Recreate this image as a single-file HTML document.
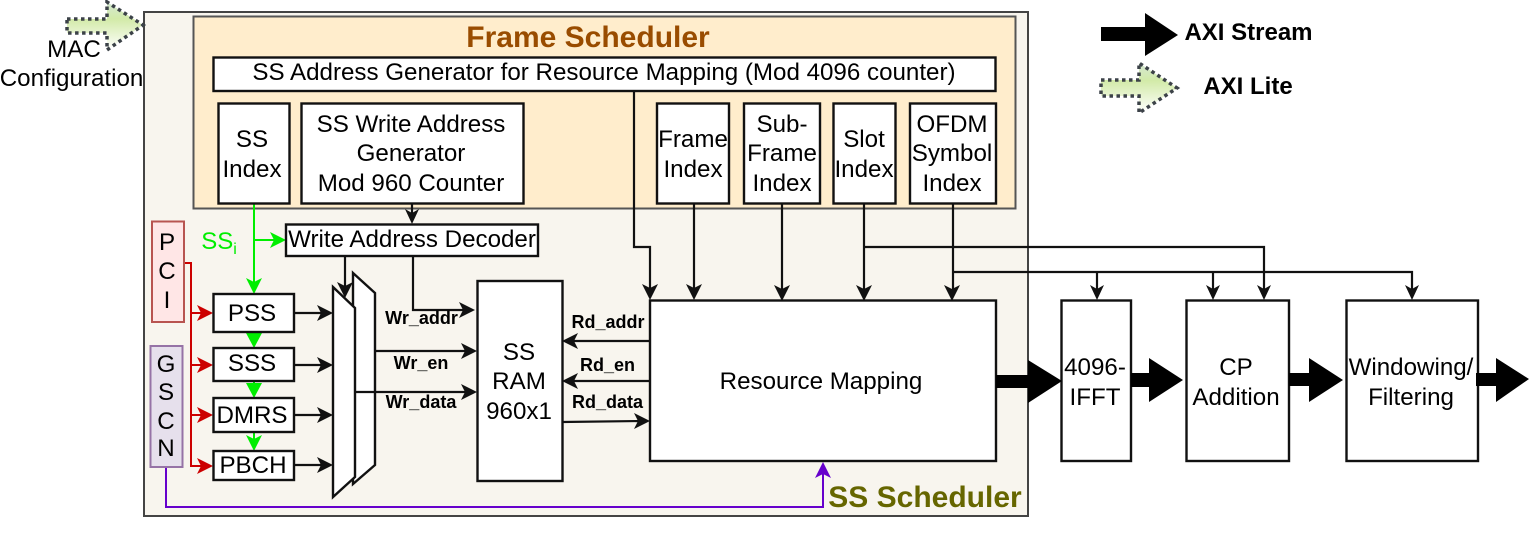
<!DOCTYPE html>
<html><head><meta charset="utf-8"><style>
html,body{margin:0;padding:0;background:#fff;width:1536px;height:536px;overflow:hidden}
svg{display:block}
text{font-family:"Liberation Sans",sans-serif;fill:#000;text-anchor:middle}
.t{font-size:24.15px}
.b{font-size:18px;font-weight:bold}
.box{fill:#fff;stroke:#111;stroke-width:2.4}
.w{fill:none;stroke:#111;stroke-width:2.2}
.g{fill:none;stroke:#00ee00;stroke-width:2}
.r{fill:none;stroke:#cc0000;stroke-width:2}
</style></head><body>
<svg width="1536" height="536" viewBox="0 0 1536 536" xmlns="http://www.w3.org/2000/svg">
<defs>
<linearGradient id="gr" x1="0" y1="0" x2="0" y2="1"><stop offset="0" stop-color="#d5e8d4"/><stop offset="0.35" stop-color="#d2eaa8"/><stop offset="1" stop-color="#ffffff"/></linearGradient>
</defs>

<!-- outer -->
<rect x="144" y="12" width="884" height="504" fill="#f8f5ee" stroke="#444" stroke-width="2"/>
<!-- frame scheduler -->
<rect x="193.500" y="16.500" width="822" height="192" fill="#ffedcc" stroke="#555" stroke-width="2"/>

<!-- AXI lite arrows -->
<polygon points="67,19 107,19 107,2 143,25 107,50 107,33 67,33" fill="url(#gr)" stroke="#3c4248" stroke-width="3.500" stroke-dasharray="3.500 3.500"/>
<polygon points="1101,80 1139,80 1139,63 1177,88 1139,113 1139,96 1101,96" fill="url(#gr)" stroke="#3c4248" stroke-width="3.500" stroke-dasharray="3.500 3.500"/>
<!-- AXI stream legend -->
<polygon points="1101,27 1145,27 1145,13 1178,35 1145,56 1145,41 1101,41" fill="#000"/>

<text class="t" x="74" y="57">MAC</text>
<text class="t" x="71.500" y="86">Configuration</text>
<text x="1248.500" y="40" style="font-size:24px;font-weight:bold">AXI Stream</text>
<text x="1248" y="94" style="font-size:24px;font-weight:bold">AXI Lite</text>

<text x="588" y="47" style="font-size:30px;font-weight:bold;fill:#994c00">Frame Scheduler</text>
<text x="925" y="507" style="font-size:30px;font-weight:bold;fill:#666600">SS Scheduler</text>

<!-- black connectors -->
<path class="w" d="M634 91V247H650V290"/>
<path class="w" d="M694 204V290"/>
<path class="w" d="M782 204V291"/>
<path class="w" d="M864 204V291"/>
<path class="w" d="M953 204V291"/>
<path class="w" d="M864 247H1264V291"/>
<path class="w" d="M953 272H1412V291"/>
<path class="w" d="M1097 272V291"/>
<path class="w" d="M1213 272V291"/>
<path class="w" d="M412 204V216"/>
<path class="w" d="M345 256V290"/>
<path class="w" d="M413 256V310H468"/>
<path class="w" d="M375 351H468"/>
<path class="w" d="M650 341H570"/>
<path class="w" d="M650 381H570"/>
<path class="w" d="M562 422L642 421"/>
<path class="w" d="M294 313H325"/>
<path class="w" d="M294 365H325"/>
<path class="w" d="M294 415H325"/>
<path class="w" d="M294 465H325"/>

<!-- black arrowheads -->
<g fill="#111">
<polygon points="650,300 642,284 650,288 658,284"/>
<polygon points="694,300 686,284 694,288 702,284"/>
<polygon points="782,301 774,285 782,289 790,285"/>
<polygon points="864,301 856,285 864,289 872,285"/>
<polygon points="952,301 944,285 952,289 960,285"/>
<polygon points="1097,300 1090,285 1097,289 1104,285"/>
<polygon points="1213,300 1206,285 1213,289 1220,285"/>
<polygon points="1264,300 1257,285 1264,289 1271,285"/>
<polygon points="1412,300 1405,285 1412,289 1419,285"/>
<polygon points="412,224 405,209 412,213 419,209"/>
<polygon points="345,298 337,282 345,286 353,282"/>
<polygon points="475,310 459,302 463,310 459,318"/>
<polygon points="477,351 461,343 465,351 461,359"/>
<polygon points="562,341 578,333 574,341 578,349"/>
<polygon points="562,381 578,373 574,381 578,389"/>
<polygon points="650,421 634,413 638,421 634,429"/>
<polygon points="333,313 317,305 321,313 317,321"/>
<polygon points="333,365 317,357 321,365 317,373"/>
<polygon points="333,415 317,407 321,415 317,423"/>
<polygon points="333,465 317,457 321,465 317,473"/>
</g>

<!-- green -->
<path class="g" d="M254 204V286"/>
<path class="g" d="M254 240H278"/>
<path class="g" d="M254 332V340"/>
<path class="g" d="M254 381V390"/>
<path class="g" d="M254 432V443"/>
<g fill="#00ee00">
<polygon points="286,240 270,232 274,240 270,248"/>
<polygon points="254,294 246,278 254,282 262,278"/>
<polygon points="254,348 246,333 262,333"/>
<polygon points="254,398 246,383 262,383"/>
<polygon points="254,451 246,435 254,439 262,435"/>
</g>
<text x="219" y="249" style="font-size:24px;fill:#00ee00">SS<tspan font-size="16" dy="5">i</tspan></text>

<!-- red -->
<path class="r" d="M184 263H191V466H205"/>
<path class="r" d="M191 313H205"/>
<path class="r" d="M191 365H205"/>
<path class="r" d="M191 415H205"/>
<g fill="#cc0000">
<polygon points="213,313 197,305 201,313 197,321"/>
<polygon points="213,365 197,357 201,365 197,373"/>
<polygon points="213,415 197,407 201,415 197,423"/>
<polygon points="213,466 197,458 201,466 197,474"/>
</g>

<!-- purple -->
<path d="M166 467V507H823V470" fill="none" stroke="#6600cc" stroke-width="2"/>
<polygon points="823,462 815,478 823,474 831,478" fill="#6600cc"/>

<!-- PCI / GSCN -->
<rect x="152" y="221.500" width="32" height="100.500" fill="#ffe6e6" stroke="#b85450" stroke-width="2"/>
<rect x="150.500" y="346" width="32" height="121" fill="#e6e0ec" stroke="#9673a6" stroke-width="2"/>
<text class="t" x="167" y="250">P</text><text class="t" x="167" y="279">C</text><text class="t" x="167" y="308">I</text>
<text class="t" x="166" y="372">G</text><text class="t" x="166" y="400">S</text><text class="t" x="166" y="429">C</text><text class="t" x="166" y="456">N</text>

<!-- boxes -->
<rect class="box" x="213.500" y="57.500" width="782" height="33.500"/>
<rect class="box" x="218.500" y="103.500" width="71" height="100"/>
<rect class="box" x="301.500" y="103.500" width="222" height="100"/>
<rect class="box" x="657" y="103.500" width="72" height="100"/>
<rect class="box" x="744" y="103.500" width="76" height="100"/>
<rect class="box" x="833.500" y="103.500" width="62" height="100"/>
<rect class="box" x="910" y="103.500" width="86" height="100"/>
<rect class="box" x="286" y="224.500" width="252" height="31.500"/>
<rect class="box" x="213.500" y="294" width="80.500" height="38"/>
<rect class="box" x="213.500" y="348" width="80.500" height="33"/>
<rect class="box" x="213.500" y="398" width="80.500" height="34"/>
<rect class="box" x="213.500" y="451" width="80.500" height="29"/>
<polygon class="box" points="353,273 375,293 375,465 353,484"/>
<polygon class="box" points="333,287 355,308 355,477 333,497"/>
<rect class="box" x="477.500" y="281" width="85" height="200"/>
<rect class="box" x="650" y="300.500" width="346" height="160.500"/>
<rect class="box" x="1061.500" y="300.500" width="69.500" height="160.500"/>
<rect class="box" x="1186.500" y="300.500" width="102.500" height="160.500"/>
<rect class="box" x="1346.500" y="300.500" width="131.500" height="160.500"/>
<path class="w" d="M355 392H468"/>
<polygon points="477,392 461,384 465,392 461,400" fill="#111"/>

<!-- fat arrows -->
<g fill="#000">
<polygon points="996,375 1028,375 1028,360 1062,381 1028,403 1028,388 996,388"/>
<polygon points="1131,373 1149,373 1149,358 1183,380 1149,402 1149,387 1131,387"/>
<polygon points="1289,373 1309,373 1309,358 1343,380 1309,402 1309,386 1289,386"/>
<polygon points="1476,373 1496,373 1496,358 1529,379 1496,402 1496,386 1476,386"/>
</g>

<!-- box labels -->
<text class="t" x="604" y="80">SS Address Generator for Resource Mapping (Mod 4096 counter)</text>
<text class="t" x="252" y="147">SS</text><text class="t" x="252" y="177">Index</text>
<text class="t" x="411" y="132">SS Write Address</text><text class="t" x="411" y="161">Generator</text><text class="t" x="411" y="191">Mod 960 Counter</text>
<text class="t" x="693" y="147">Frame</text><text class="t" x="693" y="177">Index</text>
<text class="t" x="782" y="132">Sub-</text><text class="t" x="782" y="161">Frame</text><text class="t" x="782" y="191">Index</text>
<text class="t" x="864" y="147">Slot</text><text class="t" x="864" y="177">Index</text>
<text class="t" x="952" y="132">OFDM</text><text class="t" x="952" y="161">Symbol</text><text class="t" x="952" y="191">Index</text>
<text class="t" x="412" y="247">Write Address Decoder</text>
<text class="t" x="252" y="321">PSS</text>
<text class="t" x="252" y="371">SSS</text>
<text class="t" x="252" y="423">DMRS</text>
<text class="t" x="253" y="473">PBCH</text>
<text class="t" x="519" y="360">SS</text><text class="t" x="519" y="389">RAM</text><text class="t" x="519" y="419">960x1</text>
<text class="t" x="821" y="389">Resource Mapping</text>
<text class="t" x="1095" y="375">4096-</text><text class="t" x="1095" y="405">IFFT</text>
<text class="t" x="1236" y="375">CP</text><text class="t" x="1236" y="405">Addition</text>
<text class="t" x="1411" y="375">Windowing/</text><text class="t" x="1411" y="405">Filtering</text>

<text class="b" x="421.500" y="324">Wr_addr</text>
<text class="b" x="421" y="369">Wr_en</text>
<text class="b" x="421" y="408">Wr_data</text>
<text class="b" x="608" y="328">Rd_addr</text>
<text class="b" x="607.500" y="371">Rd_en</text>
<text class="b" x="607.500" y="408">Rd_data</text>
</svg>
</body></html>
